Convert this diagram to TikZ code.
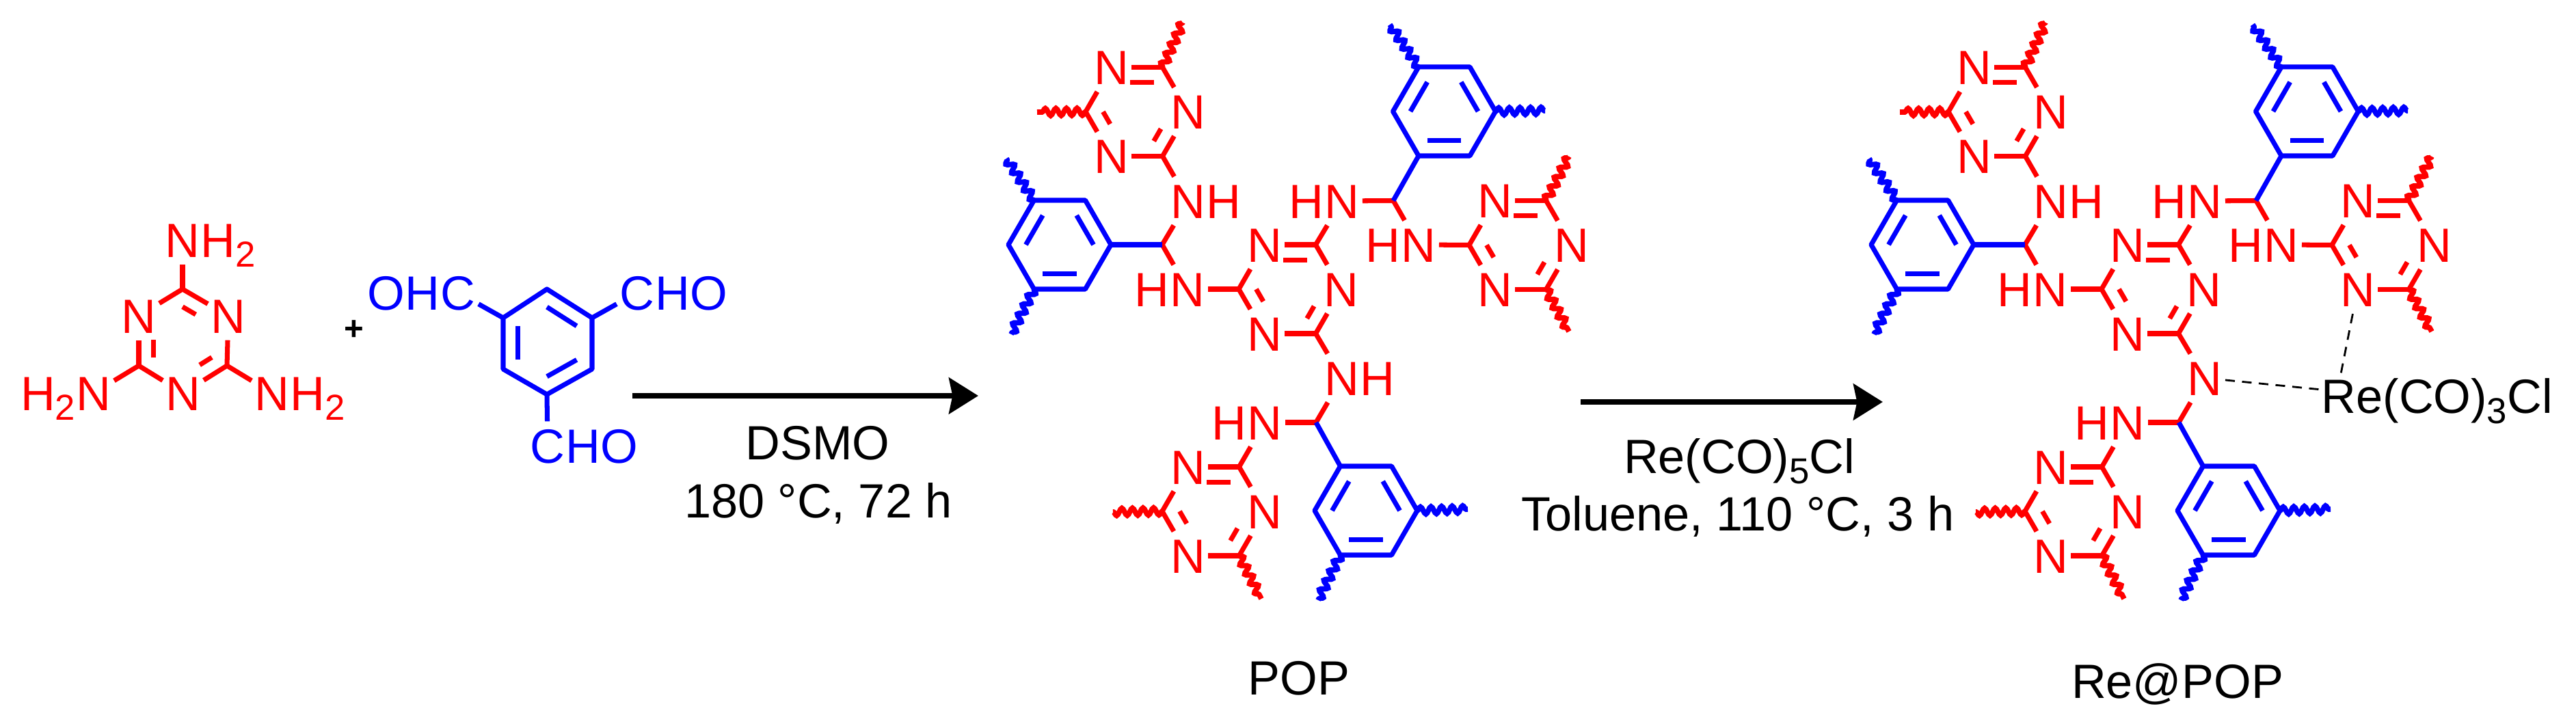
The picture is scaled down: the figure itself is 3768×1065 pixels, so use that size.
\documentclass[tikz,border=0pt]{standalone}
\usepackage{fontspec}
\setmainfont{Liberation Sans}
\usetikzlibrary{calc}
\usetikzlibrary{positioning}
\usetikzlibrary{arrows.meta}
\usetikzlibrary{decorations.pathmorphing}

\tikzset{
  txt/.style={font=\fontsize{20}{24}\selectfont, inner sep=0pt},
  atom/.style={txt, inner xsep=1.1pt, inner ysep=2.8pt, text height=14.3pt, text depth=0pt},
  hatom/.style={atom, inner xsep=0pt},
  bond/.style={line width=2pt, line join=round},
  wavy/.style={line width=2.2pt, decorate, decoration={snake, amplitude=1.5pt, segment length=4.4pt}},
  rxn/.style={line width=2.3pt, -{Stealth[length=12.2pt, width=15pt, inset=1.5pt]}},
  coord/.style={line width=.8pt, dash pattern=on 4pt off 3pt}
}
\newcommand{\lowfig}[1]{\smash{\raisebox{-4.2pt}{\fontsize{15}{15}\selectfont #1}}}
\newcommand{\inbond}[4][]{\draw[bond,#1] ($(#4)!.66!(#2)$) -- ($(#4)!.66!(#3)$);}
\newcommand{\triazine}[3]{
  \begin{scope}[shift={(#2,#3)}]
    \coordinate (#1o) at (0,0);
    \coordinate (#1c1) at (37.5,-65);
    \coordinate (#1c2) at (37.5,65);
    \coordinate (#1c3) at (-75,0);
    \node[atom] (#1n1) at (-37.5,-65) {N};
    \node[atom] (#1n2) at (75,0) {N};
    \node[atom] (#1n3) at (-37.5,65) {N};
    \draw[bond] (#1c1) -- (#1n1);
    \draw[bond] (#1c1) -- (#1n2);
    \draw[bond] (#1c2) -- (#1n2);
    \draw[bond] (#1c2) -- (#1n3);
    \draw[bond] (#1c3) -- (#1n3);
    \draw[bond] (#1c3) -- (#1n1);
    \inbond[shorten >=4.3pt]{#1c1}{#1n1}{#1o}
    \inbond[shorten >=8.2pt]{#1c2}{#1n2}{#1o}
    \inbond[shorten >=8.2pt]{#1c3}{#1n3}{#1o}
  \end{scope}}
\newcommand{\phenyl}[3]{
  \begin{scope}[shift={(#2,#3)}]
    \coordinate (#1o) at (0,0);
    \coordinate (#1v1) at (-37.5,-65);
    \coordinate (#1v2) at (37.5,-65);
    \coordinate (#1v3) at (75,0);
    \coordinate (#1v4) at (37.5,65);
    \coordinate (#1v5) at (-37.5,65);
    \coordinate (#1v6) at (-75,0);
    \draw[bond] (#1v1) -- (#1v2) -- (#1v3) -- (#1v4) -- (#1v5) -- (#1v6) -- cycle;
    \inbond{#1v1}{#1v6}{#1o}
    \inbond{#1v2}{#1v3}{#1o}
    \inbond{#1v4}{#1v5}{#1o}
  \end{scope}}

\begin{document}
\begin{tikzpicture}[x=0.01cm, y=-0.01cm]
  \useasboundingbox (0,0) rectangle (3768,1065);

  \begin{scope}[red]
    \coordinate (mo) at (267,499);
    \coordinate (mc1) at (267,423);
    \coordinate (mc2) at (332,535);
    \coordinate (mc3) at (203,535);
    \node[atom] (mn1) at (203,462) {N};
    \node[atom] (mn2) at (334,462) {N};
    \node[atom] (mn3) at (268,575) {N};
    \node[atom] (ma1) at (267,351) {N};
    \node[hatom, right=-1.1pt of ma1] (mh1) {H\lowfig{2}};
    \node[atom] (ma2) at (137,575) {N};
    \node[hatom, left=-1.1pt of ma2] (mh2) {H\lowfig{2}};
    \node[atom] (ma3) at (398,575) {N};
    \node[hatom, right=-1.1pt of ma3] (mh3) {H\lowfig{2}};
    \draw[bond] (mc1) -- (mn1);
    \draw[bond] (mc1) -- (mn2);
    \draw[bond] (mc2) -- (mn2);
    \draw[bond] (mc2) -- (mn3);
    \draw[bond] (mc3) -- (mn3);
    \draw[bond] (mc3) -- (mn1);
    \draw[bond] (mc1) -- (ma1);
    \draw[bond] (mc3) -- (ma2);
    \draw[bond] (mc2) -- (ma3);
    \inbond[shorten >=8.2pt]{mc1}{mn2}{mo}
    \inbond[shorten >=6.5pt]{mc3}{mn1}{mo}
    \inbond[shorten >=8.2pt]{mc2}{mn3}{mo}
  \end{scope}

  \node[txt, font=\fontsize{14}{14}\selectfont\bfseries] (plus) at (518,483) {+};

  \begin{scope}[blue]
    \coordinate (ao) at (800,500);
    \coordinate (av1) at (800,423);
    \coordinate (av2) at (866,465);
    \coordinate (av3) at (866,540);
    \coordinate (av4) at (800,577);
    \coordinate (av5) at (736,540);
    \coordinate (av6) at (736,465);
    \draw[bond] (av1) -- (av2) -- (av3) -- (av4) -- (av5) -- (av6) -- cycle;
    \inbond{av1}{av2}{ao}
    \inbond{av3}{av4}{ao}
    \inbond{av5}{av6}{ao}
    \node[atom] (ac1) at (670,428) {C};
    \node[hatom, left=-1.1pt of ac1] (ah1) {OH};
    \node[atom] (ac2) at (932,428) {C};
    \node[hatom, right=-1.1pt of ac2] (ah2) {HO};
    \node[atom] (ac3) at (801,652) {C};
    \node[hatom, right=-1.1pt of ac3] (ah3) {HO};
    \draw[bond] (av6) -- (ac1);
    \draw[bond] (av2) -- (ac2);
    \draw[bond] (av4) -- (ac3);
  \end{scope}

  \coordinate (s1) at (925,579);
  \coordinate (e1) at (1431,579);
  \draw[rxn] (s1) -- (e1);
  \node[txt, anchor=base] (dsmo) at (1196,673) {DSMO};
  \node[txt, anchor=base] (cond1) at (1197,758) {180 °C, 72 h};

  \coordinate (s2) at (2312,588);
  \coordinate (e2) at (2754,588);
  \draw[rxn] (s2) -- (e2);
  \node[txt, anchor=base] (reagent) at (2544,693) {Re(CO)\lowfig{5}Cl};
  \node[txt, anchor=base] (cond2) at (2542,777) {Toluene, 110 °C, 3 h};

  \foreach \m/\dx in {pop/0, re/1262} {
    \begin{scope}[xshift=\dx*0.01cm]
      \begin{scope}[red]
        \triazine{\m-a}{1663}{163.5}
        \triazine{\m-b}{1887}{423}
        \triazine{\m-c}{2224}{358.5}
        \triazine{\m-d}{1775}{748}
        \coordinate (\m-l1) at (1700,358);
        \coordinate (\m-l2) at (2038,293.5);
        \coordinate (\m-l3) at (1925,618);
        \node[atom] (\m-n1) at (1738,294) {N};
        \node[hatom, right=-1.1pt of \m-n1] (\m-h1) {H};
        \node[atom] (\m-n2) at (1737,423) {N};
        \node[hatom, left=-1.1pt of \m-n2] (\m-h2) {H};
        \node[atom] (\m-n3) at (1963,294) {N};
        \node[hatom, left=-1.1pt of \m-n3] (\m-h3) {H};
        \node[atom] (\m-n4) at (2075,358) {N};
        \node[hatom, left=-1.1pt of \m-n4] (\m-h4) {H};
        \node[atom] (\m-n5) at (1963,553) {N};
        \node[atom] (\m-n6) at (1850,618) {N};
        \node[hatom, left=-1.1pt of \m-n6] (\m-h6) {H};
        \draw[bond] (\m-ac2) -- (\m-n1);
        \draw[bond] (\m-l1) -- (\m-n1);
        \draw[bond] (\m-l1) -- (\m-n2);
        \draw[bond] (\m-bc3) -- (\m-n2);
        \draw[bond] (\m-bc1) -- (\m-n3);
        \draw[bond] (\m-l2) -- (\m-n3);
        \draw[bond] (\m-l2) -- (\m-n4);
        \draw[bond] (\m-cc3) -- (\m-n4);
        \draw[bond] (\m-bc2) -- (\m-n5);
        \draw[bond] (\m-l3) -- (\m-n5);
        \draw[bond] (\m-l3) -- (\m-n6);
        \draw[bond] (\m-dc1) -- (\m-n6);
        \foreach \a/\x/\y in {\m-ac1/1730/33, \m-ac3/1517/164, \m-cc1/2295/229, \m-cc2/2295/485, \m-dc3/1628/749, \m-dc2/1845/876} {
          \coordinate (\a w) at (\x,\y);
          \draw[wavy] (\a) -- (\a w);
        }
      \end{scope}
      \begin{scope}[blue]
        \phenyl{\m-p}{2112.5}{163}
        \phenyl{\m-q}{1550}{358}
        \phenyl{\m-r}{1998}{747}
        \draw[bond] (\m-qv3) -- (\m-l1);
        \draw[bond] (\m-pv5) -- (\m-l2);
        \draw[bond] (\m-rv1) -- (\m-l3);
        \foreach \a/\x/\y in {\m-pv1/2033/36, \m-pv3/2260/162, \m-qv1/1472/232, \m-qv5/1479/489, \m-rv3/2147/745, \m-rv5/1928/878} {
          \coordinate (\a w) at (\x,\y);
          \draw[wavy] (\a) -- (\a w);
        }
      \end{scope}
    \end{scope}
  }
  \node[hatom, red, right=-1.1pt of pop-n5] (pop-h5) {H};

  \node[txt, anchor=base] (poplab) at (1900,1017) {POP};
  \node[txt, anchor=base] (relab) at (3185,1022) {Re@POP};

  \node[txt, anchor=base west] (recl) at (3395,605) {Re(CO)\lowfig{3}Cl};
  \coordinate (retop) at (3424,547);
  \draw[coord] (re-n5) -- (recl);
  \draw[coord] (re-cn3) -- (retop);
\end{tikzpicture}
\end{document}
